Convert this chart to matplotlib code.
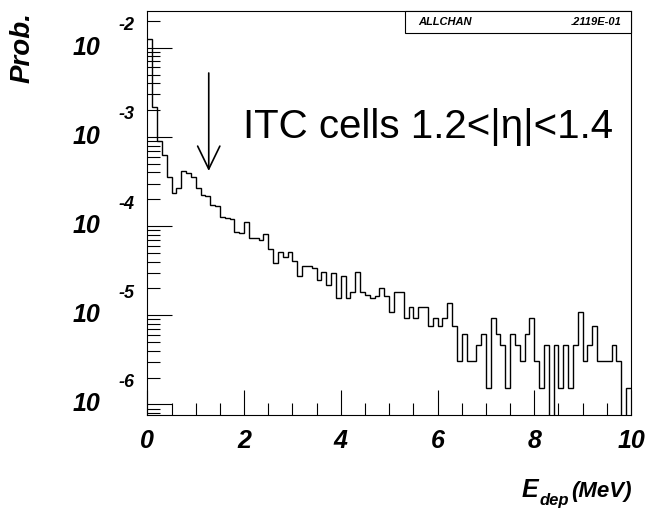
import numpy as np
import matplotlib
matplotlib.use("Agg")
import matplotlib.pyplot as plt
from matplotlib.ticker import LogLocator, MultipleLocator, NullFormatter
from matplotlib.patches import Rectangle
from matplotlib import transforms

# histogram: 100 bins of 0.1 MeV, probability per bin (0 = empty bin)
edges = np.linspace(0.0, 10.0, 101)
prob = [
    1.25e-2, 2.14e-3, 8.99e-4, 6.27e-4, 3.55e-4, 2.37e-4, 2.64e-4, 4.18e-4, 3.91e-4, 3.51e-4,
    2.69e-4, 2.21e-4, 2.16e-4, 1.71e-4, 1.67e-4, 1.26e-4, 1.22e-4, 1.19e-4, 8.66e-5, 8.30e-5,
    1.12e-4, 7.30e-5, 7.30e-5, 6.99e-5, 8.09e-5, 5.54e-5, 3.83e-5, 5.08e-5, 4.47e-5, 5.08e-5,
    4.06e-5, 2.78e-5, 3.57e-5, 3.57e-5, 3.42e-5, 2.49e-5, 3.08e-5, 2.19e-5, 2.96e-5, 1.55e-5,
    2.78e-5, 1.55e-5, 1.84e-5, 3.08e-5, 1.84e-5, 1.69e-5, 1.55e-5, 1.66e-5, 2.04e-5, 1.66e-5,
    1.08e-5, 1.84e-5, 1.84e-5, 9.25e-6, 1.25e-5, 9.25e-6, 1.25e-5, 1.25e-5, 7.59e-6, 9.25e-6,
    7.62e-6, 9.25e-6, 1.36e-5, 7.62e-6, 3.10e-6, 6.12e-6, 3.10e-6, 3.10e-6, 4.63e-6, 6.12e-6,
    1.52e-6, 9.21e-6, 6.12e-6, 4.63e-6, 1.52e-6, 6.12e-6, 4.63e-6, 3.10e-6, 6.12e-6, 9.21e-6,
    3.10e-6, 1.52e-6, 4.63e-6, 0.0, 4.63e-6, 1.52e-6, 4.63e-6, 1.52e-6, 4.63e-6, 1.08e-5,
    3.10e-6, 4.63e-6, 7.62e-6, 3.10e-6, 3.10e-6, 3.10e-6, 4.63e-6, 3.10e-6, 0.0, 1.52e-6,
]
x_ticks = [0, 2, 4, 6, 8, 10]
y_decades = [-2, -3, -4, -5, -6]
stat_name = "ALLCHAN"
stat_value = ".2119E-01"
note = "ITC cells 1.2<|\u03b7|<1.4"
arrow_x = 1.27

font = ["Liberation Sans", "DejaVu Sans"]
ymin, ymax = 10 ** -6.118, 10 ** -1.589

fig = plt.figure(figsize=(6.53, 5.14), dpi=100)
ax = fig.add_axes([0.2256, 0.1926, 0.7407, 0.786])

vals = np.array(prob)
vals = np.where(vals > 0, vals, ymin * 0.1)  # empty bins drop to the floor
ax.stairs(vals, edges, color="black", lw=1.0, baseline=None)

ax.set_yscale("log")
ax.set_xlim(0, 10)
ax.set_ylim(ymin, ymax)

for s in ax.spines.values():
    s.set_linewidth(0.8)

ax.set_xticks(x_ticks)
ax.xaxis.set_minor_locator(MultipleLocator(0.5))
ax.yaxis.set_major_locator(LogLocator(base=10, numticks=20))
ax.yaxis.set_minor_locator(LogLocator(base=10, subs=np.arange(2, 10), numticks=20))
ax.yaxis.set_minor_formatter(NullFormatter())
ax.tick_params(which="major", direction="in", length=18, width=0.8,
               top=False, right=False, labelleft=False, pad=10)
ax.tick_params(which="minor", direction="in", length=9, width=0.8,
               top=False, right=False, labelleft=False)
ax.set_xticklabels([str(t) for t in x_ticks], fontsize=18,
                   fontweight="bold", fontstyle="italic", family=font)

# y tick labels in PAW style: 10 with a raised exponent
ytr = transforms.blended_transform_factory(ax.transAxes, ax.transData)
ytr_up = transforms.offset_copy(ytr, fig=fig, x=0, y=22, units="dots")
for d in y_decades:
    ax.text(-0.0978, 10.0 ** d, "10", transform=ytr, ha="right", va="center",
            fontsize=18, fontweight="bold", fontstyle="italic", family=font)
    ax.text(-0.0604, 10.0 ** d, str(d), transform=ytr_up, ha="left", va="center",
            fontsize=13, fontweight="bold", fontstyle="italic", family=font)

# axis titles
fig.text(22.5 / 653, 1 - 12 / 514, "Prob.", rotation=90, ha="center", va="top",
         fontsize=20, fontweight="bold", fontstyle="italic", family=font)
fig.text(632 / 653, 1 - 497 / 514, "(MeV)", ha="right", va="baseline",
         fontsize=16, fontweight="bold", fontstyle="italic", family=font)
fig.text(540 / 653, 1 - 505 / 514, "dep", ha="left", va="baseline",
         fontsize=12, fontweight="bold", fontstyle="italic", family=font)
fig.text(522 / 653, 1 - 497 / 514, "E", ha="left", va="baseline",
         fontsize=18, fontweight="bold", fontstyle="italic", family=font)

# stat box
ax.add_patch(Rectangle((0.5328, 0.9455), 0.4672, 0.0545, transform=ax.transAxes,
                       facecolor="white", edgecolor="black", lw=0.8, zorder=5,
                       clip_on=False))
ax.text(0.5597, 0.9728, stat_name, transform=ax.transAxes, ha="left", va="center",
        fontsize=8, fontweight="bold", fontstyle="italic", family=font, zorder=6)
ax.text(0.9812, 0.9728, stat_value, transform=ax.transAxes, ha="right", va="center",
        fontsize=8, fontweight="bold", fontstyle="italic", family=font, zorder=6)

# annotation
ax.annotate("", xy=(arrow_x, 10 ** -3.382), xytext=(arrow_x, 10 ** -2.284),
            arrowprops=dict(arrowstyle="->,head_length=1.65,head_width=0.8",
                            mutation_scale=10, lw=1.2, color="black",
                            shrinkA=0, shrinkB=0))
ax.text(1.98, 10 ** -2.889, note, ha="left", va="center", fontsize=29,
        family=font)

fig.savefig("out.png", dpi=100)
